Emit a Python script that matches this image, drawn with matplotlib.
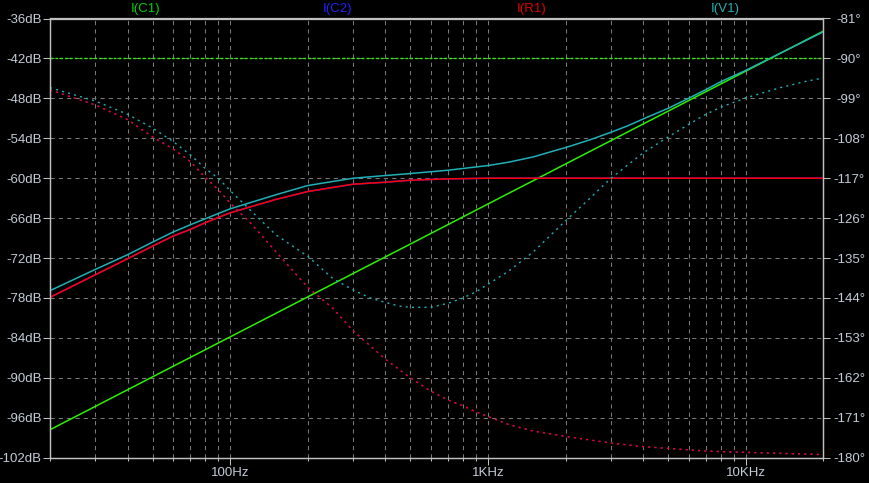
import numpy as np
import matplotlib.pyplot as plt

# Datos (frecuencia en Hz, magnitud en dB, fase en grados)
f_c1 = [20, 20000]
mag_c1 = [-97.8, -37.9]
f_c1_fase = [20, 20000]
fase_c1 = [-90.0, -90.0]

f_r1 = [20, 30, 40, 50, 60, 70, 80, 90, 100, 150, 200, 300, 400, 500, 700, 1000, 20000]
mag_r1 = [-77.9, -74.5, -72.1, -70.2, -68.7, -67.7, -66.7, -65.9, -65.2, -63.2,
          -62.0, -60.9, -60.6, -60.3, -60.1, -60.0, -60.0]
f_r1_fase = [20, 30, 40, 50, 60, 70, 80, 90, 100, 120, 160, 200, 250, 300, 350, 400,
             500, 600, 700, 800, 900, 1000, 1200, 1500, 2000, 3000, 4000, 5000, 7000,
             10000, 20000]
fase_r1 = [-97.1, -100.5, -103.8, -107.7, -110.4, -113.2, -116.8, -119.6, -122.6,
           -127.1, -135.3, -141.6, -146.3, -151.4, -154.8, -157.8, -162.0, -165.0,
           -167.0, -168.3, -169.7, -170.7, -172.5, -174.0, -175.2, -176.7, -177.5,
           -177.9, -178.5, -178.8, -179.3]

f_v1 = [20, 30, 40, 50, 60, 70, 80, 90, 100, 150, 200, 300, 400, 500, 700, 1000,
        1200, 1500, 1800, 2000, 2500, 3000, 3500, 4000, 5000, 6000, 7000, 8000,
        10000, 20000]
mag_v1 = [-76.9, -73.7, -71.5, -69.6, -68.1, -67.0, -66.1, -65.3, -64.6, -62.5,
          -61.1, -60.0, -59.6, -59.3, -58.8, -58.1, -57.6, -56.8, -55.9, -55.4,
          -54.2, -53.1, -52.1, -51.1, -49.5, -48.0, -46.7, -45.5, -43.8, -38.0]
f_v1_fase = [20, 30, 40, 50, 60, 70, 80, 90, 100, 150, 200, 250, 300, 350, 400, 450,
             500, 600, 700, 800, 900, 1000, 1200, 1500, 2000, 2500, 3000, 4000, 5000,
             6000, 7000, 8000, 10000, 13600, 17000, 20000]
fase_v1 = [-96.6, -99.6, -102.6, -105.7, -108.7, -111.7, -114.8, -117.0, -119.8,
           -129.7, -134.6, -139.6, -142.2, -144.0, -145.0, -145.8, -146.1, -146.1,
           -145.2, -144.0, -142.6, -140.9, -138.0, -133.6, -126.6, -121.4, -117.0,
           -111.3, -107.7, -104.9, -102.6, -101.0, -98.9, -96.6, -95.2, -94.4]

# I(C2) es la misma corriente que I(R1) (estan en serie), queda tapada por la roja
f_c2, mag_c2 = f_r1, mag_r1
f_c2_fase, fase_c2 = f_r1_fase, fase_r1

ticks_db = np.arange(-102, -35, 6)
ticks_fase = np.arange(-180, -80, 9)

plt.rcParams['font.family'] = ['Liberation Sans', 'DejaVu Sans']
plt.rcParams['font.size'] = 9.5

verde = '#2cf000'
rojo = '#ff0000'
cian = '#20b0b8'
azul = '#2020ff'
gris = '#c0c0c0'
texto = '#c4ccd8'

fig = plt.figure(figsize=(8.69, 4.83), dpi=100, facecolor='black')
ax = fig.add_axes([50 / 869, 25.3 / 483, 773.3 / 869, 439.2 / 483])
ax.set_facecolor('black')
ax.set_xscale('log')
ax.set_xlim(20, 20000)
ax.set_ylim(-102, -36)

ax2 = ax.twinx()
ax2.set_ylim(-180, -81)

# Magnitudes (linea continua)
ax.plot(f_c1, mag_c1, color=verde, lw=1.1, zorder=3)
ax.plot(f_c2, mag_c2, color=azul, lw=1.1, zorder=3)
ax.plot(f_r1, mag_r1, color=rojo, lw=1.1, zorder=3)
ax.plot(f_v1, mag_v1, color=cian, lw=1.1, zorder=4)

# Fases (linea punteada)
ax2.plot(f_c1_fase, fase_c1, color=verde, lw=1.0, ls=(0, (2, 1.5)))
ax2.plot(f_c2_fase, fase_c2, color=azul, lw=1.0, ls=(0, (1.5, 3)))
ax2.plot(f_r1_fase, fase_r1, color=rojo, lw=1.0, ls=(0, (1.5, 3)))
ax2.plot(f_v1_fase, fase_v1, color=cian, lw=1.0, ls=(0, (1.5, 3)))

# Ejes y grilla
ax.set_xticks([100, 1000, 10000])
ax.set_xticklabels(['100Hz', '1KHz', '10KHz'])
menores = [m * d for d in [10, 100, 1000] for m in range(2, 10)] + [20000]
ax.set_xticks(menores, minor=True)
ax.xaxis.set_minor_formatter(plt.NullFormatter())
ax.set_yticks(ticks_db)
ax.set_yticklabels([f'{v}dB' for v in ticks_db])
ax2.set_yticks(ticks_fase)
ax2.set_yticklabels([f'{v}°' for v in ticks_fase])

ax.set_axisbelow(True)
estilo_grilla = dict(color='#7a7a7a', lw=0.75, ls=(0, (4, 4)))
ax.grid(True, which='both', axis='x', **estilo_grilla)
ax.grid(True, which='major', axis='y', **estilo_grilla)

ax.tick_params(axis='y', which='major', length=5, width=0.75, color=gris,
               labelcolor=texto, pad=1)
ax.tick_params(axis='x', which='major', length=5, width=0.75, color=gris,
               labelcolor=texto, pad=1.5)
ax.tick_params(axis='x', which='minor', length=2.5, width=0.75, color=gris)
ax2.tick_params(axis='y', length=5, width=0.75, color=gris, labelcolor=texto, pad=13.5)
for lab in ax2.get_yticklabels():
    lab.set_horizontalalignment('center')

for a in (ax, ax2):
    for s in a.spines.values():
        s.set_color(gris)
        s.set_linewidth(0.9)

# Nombres de las trazas arriba
fig.text(146 / 869, 1 - 9 / 483, 'I(C1)', color='#00d000', ha='center', va='center')
fig.text(338 / 869, 1 - 9 / 483, 'I(C2)', color=azul, ha='center', va='center')
fig.text(532 / 869, 1 - 9 / 483, 'I(R1)', color='#e00000', ha='center', va='center')
fig.text(725 / 869, 1 - 9 / 483, 'I(V1)', color='#20b0b0', ha='center', va='center')

fig.savefig('out.png', dpi=100, facecolor='black')
